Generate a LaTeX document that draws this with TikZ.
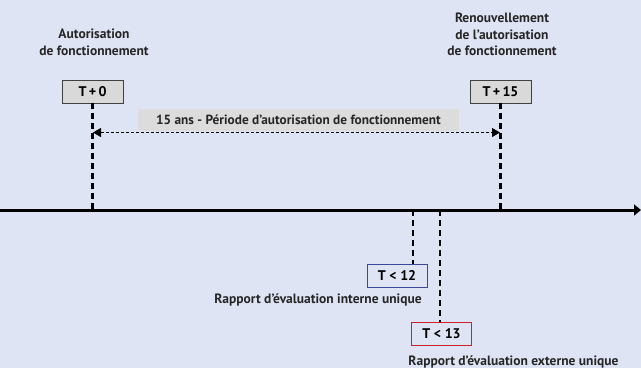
\documentclass[tikz,border=0pt]{standalone}
\usepackage{fontspec}
\setmainfont{PT Sans}
\usetikzlibrary{arrows.meta}
\definecolor{bgc}{HTML}{DFE4F4}
\definecolor{boxgray}{HTML}{D9D9D9}
\definecolor{bandgray}{HTML}{DCDCDC}
\definecolor{bluebox}{HTML}{3A4A9A}
\definecolor{redbox}{HTML}{D0202A}
\begin{document}
\begin{tikzpicture}[x=1pt,y=-1pt,
  lbl/.style={font=\bfseries\fontsize{13.5}{16.5}\selectfont, text=black!85, align=center, inner sep=0pt},
  tbox/.style={draw=black!75, line width=0.9pt, fill=boxgray, minimum width=61pt, minimum height=23pt, inner sep=0pt, font=\bfseries\fontsize{14}{16}\selectfont},
  cbox/.style={line width=0.9pt, fill=bgc, minimum width=60pt, minimum height=23pt, inner sep=0pt, font=\bfseries\fontsize{14}{16}\selectfont},
  vdash/.style={line width=2.6pt, dash pattern=on 6pt off 4pt},
]
\fill[bgc] (0,0) rectangle (641,368);
\useasboundingbox (0,0) rectangle (641,368);
% timeline
\coordinate (tl) at (0,210);
\coordinate (tr) at (641,210);
\draw[line width=3pt, -{Triangle[length=7pt,width=11pt]}] (tl) -- (tr);
% labels top
\node[lbl] (l0) at (94,42.5) {Autorisation\\de fonctionnement};
\node[lbl] (l15) at (502,34.5) {Renouvellement\\de l'autorisation\\de fonctionnement};
% boxes
\node[tbox] (t0) at (92.5,91.5) {T\,+\,0};
\node[tbox] (t15) at (500.5,91.5) {T\,+\,15};
\coordinate (b0) at (92.5,210);
\coordinate (b15) at (500.5,210);
\draw[vdash] (t0.south) -- (b0);
\draw[vdash] (t15.south) -- (b15);
% band
\node[fill=bandgray, minimum width=321pt, minimum height=22pt, inner sep=0pt, font=\bfseries\fontsize{13.3}{15}\selectfont, text=black!85] (band) at (298.5,120) {15 ans - Période d'autorisation de fonctionnement};
\coordinate (a0) at (93,132.5);
\coordinate (a15) at (500,132.5);
\draw[line width=0.9pt, dash pattern=on 3pt off 2pt, {Triangle[length=8pt,width=9pt]}-{Triangle[length=8pt,width=9pt]}] (a0) -- (a15);
% T<12
\node[cbox, draw=bluebox] (t12) at (397,275.5) {T < 12};
\coordinate (c12) at (413,210);
\draw[vdash] (c12) -- (c12 |- t12.north);
\node[lbl] (r12) at (318,300) {Rapport d'évaluation interne unique};
% T<13
\node[cbox, draw=redbox] (t13) at (441.5,333.5) {T < 13};
\coordinate (c13) at (440,210);
\draw[vdash] (c13) -- (c13 |- t13.north);
\node[lbl] (r13) at (513.5,362) {Rapport d'évaluation externe unique};
\end{tikzpicture}
\end{document}
